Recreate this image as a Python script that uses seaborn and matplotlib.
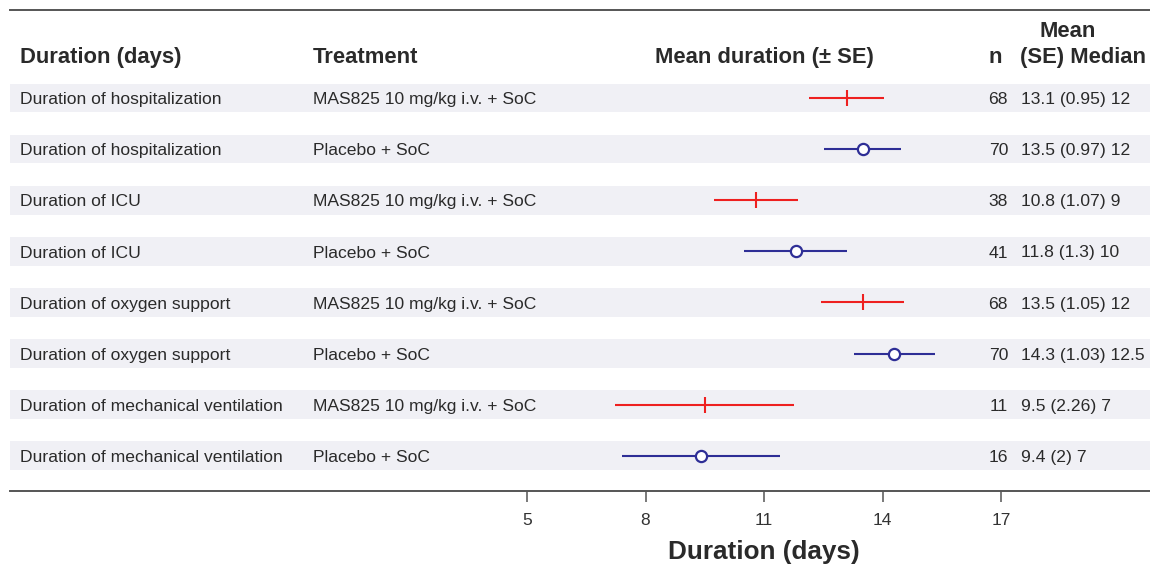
import matplotlib
matplotlib.use("Agg")
import matplotlib.pyplot as plt
import matplotlib.transforms as mtransforms
import seaborn as sns
import pandas as pd

outcomes = ["Duration of hospitalization", "Duration of hospitalization",
            "Duration of ICU", "Duration of ICU",
            "Duration of oxygen support", "Duration of oxygen support",
            "Duration of mechanical ventilation", "Duration of mechanical ventilation"]
treatments = ["MAS825 10 mg/kg i.v. + SoC", "Placebo + SoC"] * 4
groups = ["MAS825", "Placebo"] * 4
means = [13.1, 13.5, 10.8, 11.8, 13.5, 14.3, 9.5, 9.4]
ses = [0.95, 0.97, 1.07, 1.3, 1.05, 1.03, 2.26, 2.0]
ns = [68, 70, 38, 41, 68, 70, 11, 16]
stat_labels = ["13.1 (0.95) 12", "13.5 (0.97) 12", "10.8 (1.07) 9", "11.8 (1.3) 10",
               "13.5 (1.05) 12", "14.3 (1.03) 12.5", "9.5 (2.26) 7", "9.4 (2) 7"]
tick_values = [5, 8, 11, 14, 17]

df = pd.DataFrame({"row": range(len(means)), "mean": means, "se": ses, "group": groups})

sns.set_theme(style="white")
plt.rcParams["font.family"] = ["Liberation Sans", "DejaVu Sans"]

W, H = 1150, 565
fig = plt.figure(figsize=(W / 100, H / 100), dpi=100)
ax_left, ax_right, ax_top, ax_bot = 10, 1150, 10, 491
ax = fig.add_axes([ax_left / W, 1 - ax_bot / H, (ax_right - ax_left) / W, (ax_bot - ax_top) / H])

x5, x17 = 527, 1001
ppu = (x17 - x5) / 12
ax.set_xlim(5 - (x5 - ax_left) / ppu, 17 + (ax_right - x17) / ppu)
row0, ppr = 98, 51.1
ax.set_ylim(7 + (ax_bot - (row0 + 7 * ppr)) / ppr, -(row0 - ax_top) / ppr)

band = "#f0f0f5"
for i in range(len(means)):
    ax.axhspan(i - 0.28, i + 0.28, color=band, zorder=0, lw=0)

red, blue = "#ee2020", "#2e2e96"
colors = {"MAS825": red, "Placebo": blue}
for g, sub in df.groupby("group"):
    ax.hlines(sub["row"], sub["mean"] - sub["se"], sub["mean"] + sub["se"],
              color=colors[g], lw=1.5, zorder=2)
d_m = df[df.group == "MAS825"]
d_p = df[df.group == "Placebo"]
sns.scatterplot(data=d_m, x="mean", y="row", marker="|", s=120, color=red,
                linewidth=1.5, ax=ax, zorder=3, legend=False)
sns.scatterplot(data=d_p, x="mean", y="row", marker="o", s=65, facecolor="white",
                edgecolor=blue, linewidth=1.6, ax=ax, zorder=3, legend=False)

for s in ["left", "right"]:
    ax.spines[s].set_visible(False)
for s in ["top", "bottom"]:
    ax.spines[s].set_visible(True)
    ax.spines[s].set_color("#555555")
    ax.spines[s].set_linewidth(1.4)
ax.set_yticks([])
ax.set_xticks(tick_values)
ax.set_xticklabels([str(t) for t in tick_values], fontsize=12.5, color="#333333")
ax.tick_params(axis="x", direction="out", length=8, width=1.1, color="#555555",
               pad=8, bottom=True)
ax.set_xlabel("")
ax.set_ylabel("")

trans = mtransforms.blended_transform_factory(fig.transFigure, ax.transData)
txt = "#2a2a2a"
fs = 12.6
off = 6.2 / ppr
for i in range(len(means)):
    yb = i + off
    ax.text(20 / W, yb, outcomes[i], transform=trans, ha="left", va="baseline", fontsize=fs, color=txt)
    ax.text(313 / W, yb, treatments[i], transform=trans, ha="left", va="baseline", fontsize=fs, color=txt)
    ax.text(1008 / W, yb, str(ns[i]), transform=trans, ha="right", va="baseline", fontsize=fs, color=txt)
    ax.text(1021 / W, yb, stat_labels[i], transform=trans, ha="left", va="baseline", fontsize=fs, color=txt)

yh = (63 - row0) / ppr
ym = (37 - row0) / ppr
hfs = 15.8
ax.text(20 / W, yh, "Duration (days)", transform=trans, ha="left", va="baseline", fontsize=hfs, weight="bold", color=txt)
ax.text(313 / W, yh, "Treatment", transform=trans, ha="left", va="baseline", fontsize=hfs, weight="bold", color=txt)
ax.text(764 / W, yh, "Mean duration (± SE)", transform=trans, ha="center", va="baseline", fontsize=hfs, weight="bold", color=txt)
ax.text(1002 / W, yh, "n", transform=trans, ha="right", va="baseline", fontsize=hfs, weight="bold", color=txt)
ax.text(1083 / W, yh, "(SE) Median", transform=trans, ha="center", va="baseline", fontsize=hfs, weight="bold", color=txt)
ax.text(1068 / W, ym, "Mean", transform=trans, ha="center", va="baseline", fontsize=hfs, weight="bold", color=txt)

fig.text(764 / W, 1 - 559 / H, "Duration (days)", ha="center", va="baseline", fontsize=18.8, weight="bold", color=txt)

fig.savefig("out.png", dpi=100)
